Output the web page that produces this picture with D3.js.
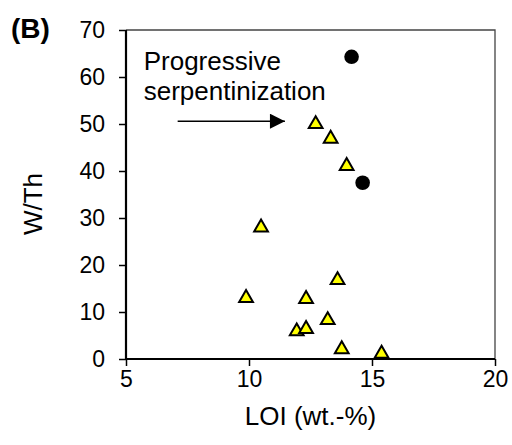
<!DOCTYPE html>
<html>
<head>
<meta charset="utf-8">
<script src="https://cdn.jsdelivr.net/npm/d3@7/dist/d3.min.js"></script>
<style>
  body { margin: 0; background: #fff; }
  text { font-family: Arial, "Liberation Sans", sans-serif; fill: #000; }
</style>
</head>
<body>
<div id="chart"></div>
<script>
// yellow triangles
var triLoi = [9.88, 10.49, 11.94, 12.32, 12.32, 12.71, 13.2, 13.32, 13.6, 13.77, 13.97, 15.39];
var triWTh = [13.4, 28.4, 6.3, 13.2, 6.8, 50.4, 8.7, 47.3, 17.2, 2.5, 41.5, 1.55];
// black circles
var dotLoi = [14.17, 14.62];
var dotWTh = [64.3, 37.5];

var xTicks = [5, 10, 15, 20];
var yTicks = [0, 10, 20, 30, 40, 50, 60, 70];

var note = ["Progressive", "serpentinization"];

var W = 512, H = 445;
var margin = {top: 30, right: 17, bottom: 86, left: 126};
var width = W - margin.left - margin.right,
    height = H - margin.top - margin.bottom;

var svg = d3.select("#chart").append("svg")
  .attr("width", W).attr("height", H);

var x = d3.scaleLinear().domain([5, 20]).range([0, width]);
var y = d3.scaleLinear().domain([0, 70]).range([height, 0]);

var g = svg.append("g")
  .attr("transform", "translate(" + margin.left + "," + margin.top + ")");

// top + right frame
g.append("path")
  .attr("d", "M0,0H" + width + "V" + height)
  .attr("fill", "none")
  .attr("stroke", "#444")
  .attr("stroke-width", 1.3);

var xAxis = g.append("g")
  .attr("transform", "translate(0," + height + ")")
  .call(d3.axisBottom(x).tickValues(xTicks).tickSize(7).tickPadding(5).tickFormat(d3.format("d")));
var yAxis = g.append("g")
  .call(d3.axisLeft(y).tickValues(yTicks).tickSize(7).tickPadding(14).tickFormat(d3.format("d")));

[xAxis, yAxis].forEach(function(a) {
  a.select(".domain").remove();
  a.selectAll("line").attr("stroke", "#000").attr("stroke-width", 1.5);
  a.selectAll("text").style("font-size", "23px").attr("fill", "#000");
});

// main axis lines
g.append("line").attr("x1", 0).attr("x2", 0).attr("y1", 0).attr("y2", height)
  .attr("stroke", "#000").attr("stroke-width", 2.2);
g.append("line").attr("x1", 0).attr("x2", width).attr("y1", height).attr("y2", height)
  .attr("stroke", "#000").attr("stroke-width", 2.2);

// markers
var tri = d3.symbol().type(d3.symbolTriangle).size(82);
var a = Math.sqrt(82 / (Math.sqrt(3) * 3));
g.selectAll(".tri").data(triLoi.map(function(v, i) { return {x: v, y: triWTh[i]}; }))
  .enter().append("path")
  .attr("class", "tri")
  .attr("d", tri)
  .attr("transform", function(d) { return "translate(" + x(d.x) + "," + (y(d.y) + a / 2) + ")"; })
  .attr("fill", "#ffff00")
  .attr("stroke", "#000")
  .attr("stroke-width", 2)
  .attr("stroke-linejoin", "miter");

g.selectAll(".dot").data(dotLoi.map(function(v, i) { return {x: v, y: dotWTh[i]}; }))
  .enter().append("circle")
  .attr("class", "dot")
  .attr("cx", function(d) { return x(d.x); })
  .attr("cy", function(d) { return y(d.y); })
  .attr("r", 7.3)
  .attr("fill", "#000");

// annotation
g.selectAll(".note").data(note).enter().append("text")
  .attr("class", "note")
  .attr("x", x(5.72))
  .attr("y", function(d, i) { return y(61.5 - i * 6.4); })
  .style("font-size", "26px")
  .text(function(d) { return d; });

svg.append("defs").append("marker")
  .attr("id", "arrow")
  .attr("viewBox", "0 0 10 10")
  .attr("refX", 10).attr("refY", 5)
  .attr("markerUnits", "userSpaceOnUse")
  .attr("markerWidth", 16).attr("markerHeight", 15)
  .attr("orient", "auto")
  .append("path").attr("d", "M0,0L10,5L0,10Z").attr("fill", "#000");

g.append("line")
  .attr("x1", x(7.1)).attr("x2", x(11.46))
  .attr("y1", y(50.6)).attr("y2", y(50.6))
  .attr("stroke", "#000").attr("stroke-width", 1.5)
  .attr("marker-end", "url(#arrow)");

// axis titles
svg.append("text")
  .attr("x", margin.left + x(12.5))
  .attr("y", 425)
  .attr("text-anchor", "middle")
  .style("font-size", "26px")
  .text("LOI (wt.-%)");

svg.append("text")
  .attr("transform", "translate(42,204) rotate(-90)")
  .attr("text-anchor", "middle")
  .style("font-size", "26px")
  .text("W/Th");

svg.append("text")
  .attr("x", 11).attr("y", 38)
  .style("font-size", "28px")
  .style("font-weight", "bold")
  .text("(B)");
</script>
</body>
</html>
